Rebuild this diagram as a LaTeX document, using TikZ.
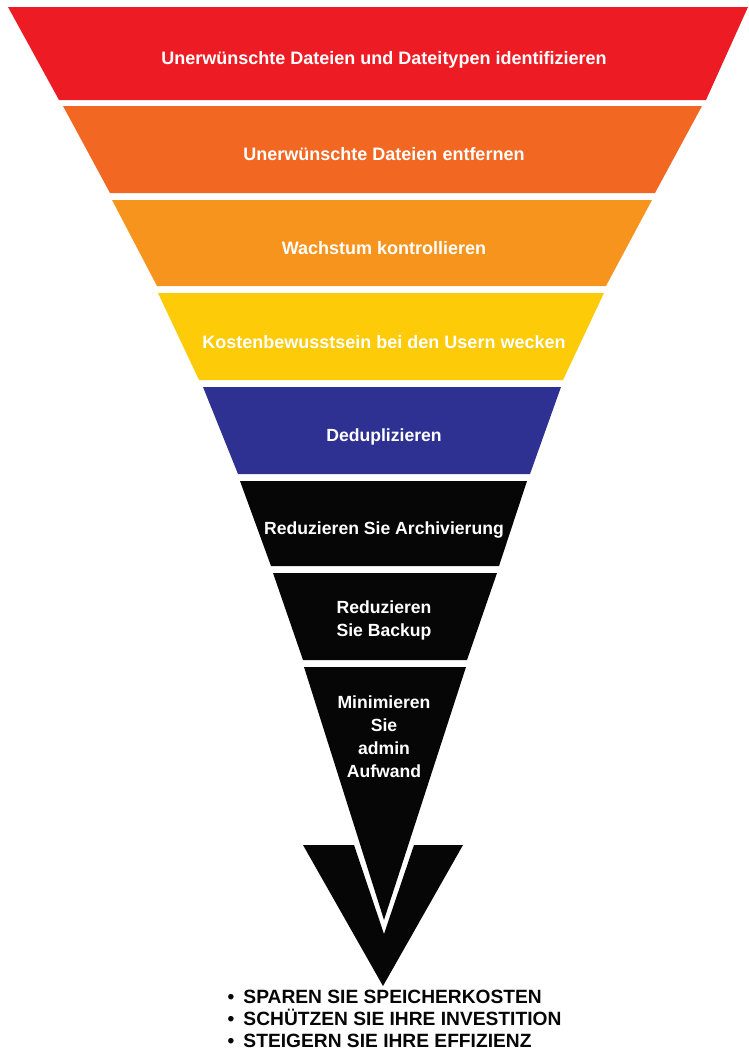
\documentclass[tikz,border=0pt]{standalone}
\usepackage{fontspec}
\setmainfont{Liberation Sans}
\usetikzlibrary{positioning}
\definecolor{fnRed}   {RGB}{237, 28, 36}
\definecolor{fnOrange}{RGB}{242,103, 34}
\definecolor{fnAmber} {RGB}{247,148, 29}
\definecolor{fnYellow}{RGB}{253,203,  8}
\definecolor{fnBlue}  {RGB}{ 46, 49,146}
\definecolor{fnBlack} {RGB}{  6,  6,  6}

\begin{document}
\begin{tikzpicture}[
  x=1pt,y=-1pt,
  toplbl/.style={text=white,align=center,
                 font=\bfseries\fontsize{18}{22}\selectfont},
  lowlbl/.style={text=white,align=center,
                 font=\bfseries\fontsize{17.6}{23}\selectfont},
  goal/.style ={text=fnBlack,align=left,anchor=west,inner sep=0pt,
                font=\bfseries\fontsize{19.2}{22}\selectfont}
]
\useasboundingbox (0,0) rectangle (748,1052);

% funnel bands, top to bottom
\fill[fnRed]    (8,7)     -- (748,7)   -- (706,100) -- (59,100)  -- cycle;
\fill[fnOrange] (63,106)  -- (702,106) -- (655,193) -- (110,193) -- cycle;
\fill[fnAmber]  (112,200) -- (652,200) -- (606,286) -- (157,286) -- cycle;
\fill[fnYellow] (158,293) -- (604,293) -- (563,380) -- (199,380) -- cycle;
\fill[fnBlue]   (203,387) -- (561,387) -- (530,474) -- (238,474) -- cycle;
\fill[fnBlack]  (240,481) -- (527,481) -- (499,566) -- (271,566) -- cycle;
\fill[fnBlack]  (273,573) -- (497,573) -- (467,660) -- (303,660) -- cycle;
\fill[fnBlack]  (304,667) -- (466,667) -- (384,920) -- cycle;

% arrow head with the notch round the last band
\fill[fnBlack]  (303,845) -- (354,845) -- (384,934) -- (414,845)
                -- (463,845) -- (383,986) -- cycle;

\node[toplbl] (s1) at (384,60)  {Unerwünschte Dateien und Dateitypen identifizieren};
\node[toplbl] (s2) at (384,154) {Unerwünschte Dateien entfernen};
\node[toplbl] (s3) at (384,248) {Wachstum kontrollieren};
\node[toplbl] (s4) at (384,342) {Kostenbewusstsein bei den Usern wecken};
\node[lowlbl] (s5) at (384,437) {Deduplizieren};
\node[lowlbl] (s6) at (384,530) {Reduzieren Sie Archivierung};
\node[lowlbl] (s7) at (384,620) {Reduzieren\\Sie Backup};
\node[lowlbl] (s8) at (384,737) {Minimieren\\Sie\\admin\\Aufwand};

\node[goal] (res) at (227.3,1019) {%
  \makebox[16pt][l]{\textbullet}SPAREN SIE SPEICHERKOSTEN\\
  \makebox[16pt][l]{\textbullet}SCHÜTZEN SIE IHRE INVESTITION\\
  \makebox[16pt][l]{\textbullet}STEIGERN SIE IHRE EFFIZIENZ};
\end{tikzpicture}
\end{document}
